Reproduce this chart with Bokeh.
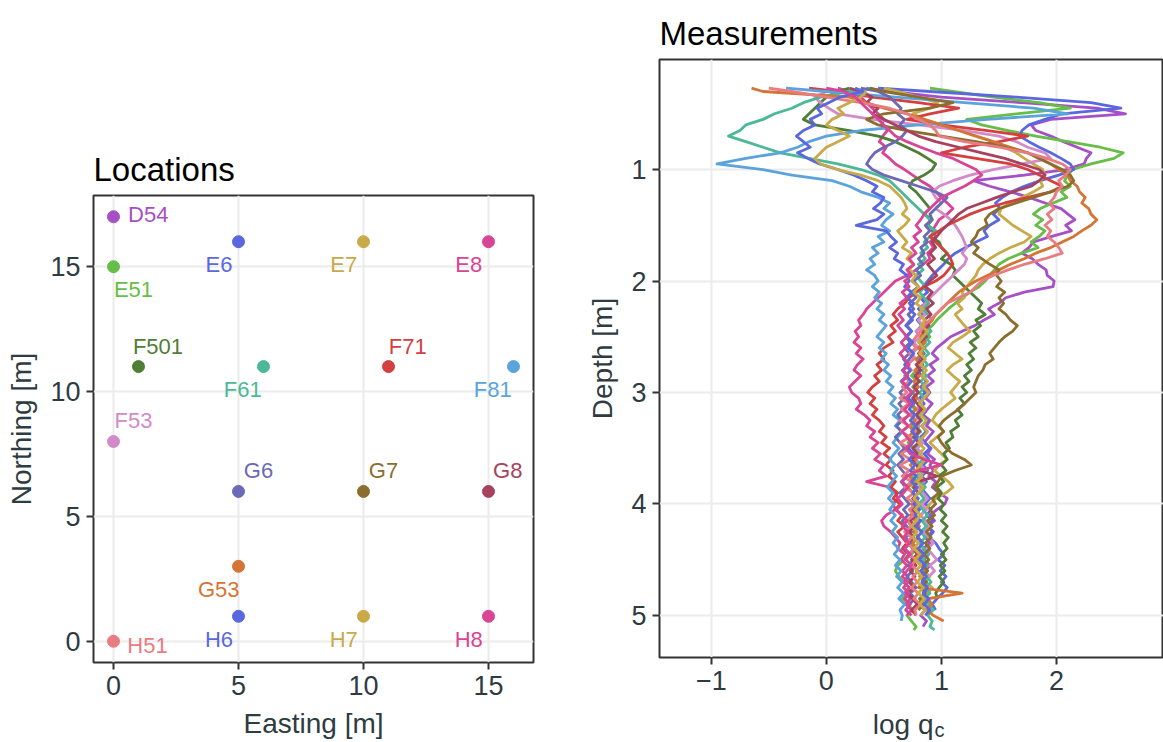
from bokeh.plotting import figure
from bokeh.layouts import row, column
from bokeh.models import Range1d, FixedTicker, Label, ColumnDataSource
from bokeh.core.properties import value
from bokeh.embed import file_html
from bokeh.resources import INLINE
import numpy as np

FONT = "Liberation Sans"

# ---------------- data: locations ----------------
LOCATIONS = ["D54", "E51", "E6", "E7", "E8", "F501", "F53", "F61", "F71", "F81",
             "G53", "G6", "G7", "G8", "H51", "H6", "H7", "H8"]
EASTING = [0, 0, 5, 10, 15, 1, 0, 6, 11, 16, 5, 5, 10, 15, 0, 5, 10, 15]
NORTHING = [17, 15, 16, 16, 16, 11, 8, 11, 11, 11, 3, 6, 6, 6, 0, 1, 1, 1]
COLORS = ["#A64FC6", "#66BD47", "#5B67DF", "#C8AA48", "#D84596", "#4F7E36", "#D38BC8",
          "#4BB897", "#D43F3F", "#5AA3DC", "#D57535", "#6A6AB7", "#8B6E2E", "#A6425E",
          "#E87C82", "#5B67DF", "#C8AA48", "#D84596"]

# label placement offsets (layout only, data units)
LABEL_DX = [1.39, 0.80, -0.78, -0.79, -0.79, 0.78, 0.80, -0.83, 0.77, -0.83,
            -0.79, 0.80, 0.80, 0.77, 1.36, -0.78, -0.79, -0.79]
LABEL_DY = [0.09, -0.92, -0.90, -0.90, -0.90, 0.81, 0.83, -0.90, 0.81, -0.90,
            -0.91, 0.84, 0.84, 0.84, -0.17, -0.93, -0.93, -0.93]

# ---------------- data: measurement profiles ----------------
DEPTH = [0.27, 0.30, 0.35, 0.40, 0.45, 0.50, 0.55, 0.60, 0.65, 0.70,
         0.75, 0.80, 0.85, 0.90, 0.95, 1.00, 1.05, 1.10, 1.15, 1.20,
         1.25, 1.30, 1.35, 1.40, 1.45, 1.50, 1.55, 1.60, 1.65, 1.70,
         1.75, 1.80, 1.85, 1.90, 1.95, 2.00, 2.05, 2.10, 2.15, 2.20,
         2.25, 2.30, 2.35, 2.40, 2.45, 2.50, 2.55, 2.60, 2.65, 2.70,
         2.75, 2.80, 2.85, 2.90, 2.95, 3.00, 3.05, 3.10, 3.15, 3.20,
         3.25, 3.30, 3.35, 3.40, 3.45, 3.50, 3.55, 3.60, 3.65, 3.70,
         3.75, 3.80, 3.85, 3.90, 3.95, 4.00, 4.05, 4.10, 4.15, 4.20,
         4.25, 4.30, 4.35, 4.40, 4.45, 4.50, 4.55, 4.60, 4.65, 4.70,
         4.75, 4.80, 4.85, 4.90, 4.95, 5.00, 5.05, 5.10, 5.13]
N = None

QC_D54 = [0.35, 0.55, 1.00, 1.70, 2.35, 2.60, 1.95, 1.78, 1.82, 1.95,
          2.06, 2.18, 2.30, 2.26, 2.24, 2.08, 1.72, 1.28, 1.42, 1.60,
          1.76, 1.90, 2.04, 2.10, 2.16, 2.08, 2.13, 1.96, 1.80, 1.76,
          1.70, 1.79, 1.84, 1.91, 1.92, 1.98, 1.97, 1.72, 1.56, 1.50,
          1.41, 1.46, 1.37, 1.29, 1.18, 1.08, 1.02, 0.96, 0.92, 0.97,
          0.90, 0.94, 0.88, 0.93, 0.87, 0.90, 0.86, 0.92, 0.88, 0.84,
          0.90, 0.87, 0.93, 0.89, 0.85, 0.91, 0.88, 0.94, 0.90, 0.93,
          0.89, 0.95, 0.92, 0.98, 1.05, 1.03, 0.96, 0.90, 0.94, 0.88,
          0.92, 0.86, 0.90, 0.84, 0.89, 0.85, 0.90, 0.86, 0.82, 0.87,
          0.83, 0.88, 0.84, 0.80, 0.86, 0.82, 0.87, 0.84, N]
QC_E51 = [0.90, 1.10, 1.45, 1.85, 2.12, 1.65, 1.22, 1.35, 1.58, 1.82,
          2.10, 2.38, 2.58, 2.50, 2.30, 2.14, 2.10, 2.07, 2.12, 2.04,
          2.09, 1.97, 1.86, 1.80, 1.88, 1.82, 1.90, 1.85, 1.78, 1.84,
          1.70, 1.58, 1.50, 1.46, 1.42, 1.38, 1.33, 1.25, 1.18, 1.12,
          1.06, 1.01, 0.96, 0.92, 0.86, 0.90, 0.84, 0.80, 0.85, 0.79,
          0.83, 0.78, 0.74, 0.79, 0.75, 0.80, 0.76, 0.72, 0.77, 0.73,
          0.78, 0.74, 0.79, 0.75, 0.71, 0.76, 0.80, 0.77, 0.82, 0.78,
          0.74, 0.79, 0.75, 0.80, 0.76, 0.82, 0.78, 0.74, 0.79, 0.75,
          0.72, 0.76, 0.73, 0.78, 0.74, 0.68, 0.62, 0.60, 0.63, 0.67,
          0.72, 0.70, 0.66, 0.71, 0.75, 0.70, 0.74, 0.78, 0.76]
QC_E6 = [0.45, 0.90, 1.65, 2.30, 2.56, 2.05, 1.90, 1.76, 1.70, 1.68,
         1.76, 1.85, 1.95, 2.04, 2.12, 2.15, 2.02, 1.86, 1.72, 1.61,
         1.53, 1.47, 1.51, 1.45, 1.50, 1.42, 1.37, 1.40, 1.30, 1.21,
         1.12, 1.06, 1.02, 0.97, 0.92, 0.88, 0.84, 0.88, 0.82, 0.86,
         0.80, 0.84, 0.79, 0.83, 0.78, 0.82, 0.86, 0.81, 0.85, 0.80,
         0.84, 0.79, 0.83, 0.87, 0.82, 0.86, 0.81, 0.85, 0.80, 0.84,
         0.88, 0.83, 0.87, 0.82, 0.86, 0.90, 0.85, 0.89, 0.84, 0.88,
         0.83, 0.87, 0.82, 0.86, 0.90, 0.86, 0.91, 0.87, 0.92, 0.88,
         0.93, 0.89, 0.95, 0.98, 1.02, 0.97, 1.03, 0.99, 1.04, 1.00,
         1.05, 1.01, 0.96, 0.92, 0.95, N, N, N, N]
QC_E7 = [0.50, 0.62, 0.80, 0.97, 0.90, 0.75, 0.85, 1.00, 1.15, 1.30,
         1.45, 1.55, 1.65, 1.72, 1.80, 1.88, 1.90, 1.86, 1.88, 1.80,
         1.70, 1.60, 1.52, 1.50, 1.56, 1.62, 1.70, 1.78, 1.72, 1.60,
         1.50, 1.42, 1.36, 1.32, 1.30, 1.26, 1.22, 1.18, 1.20, 1.14,
         1.18, 1.12, 1.16, 1.20, 1.25, 1.18, 1.10, 1.06, 1.12, 1.18,
         1.10, 1.05, 1.10, 1.16, 1.12, 1.08, 1.12, 1.06, 1.00, 0.95,
         0.92, 0.97, 1.02, 0.96, 0.90, 0.95, 1.00, 1.05, 0.98, 0.94,
         1.00, 1.06, 1.10, 1.04, 0.95, 0.90, 0.86, 0.82, 0.78, 0.80,
         0.76, 0.80, 0.84, 0.80, 0.86, 0.82, 0.88, 0.84, 0.90, 0.86,
         0.92, 0.88, 0.82, 0.86, 0.90, 0.88, N, N, N]
QC_E8 = [0.10, 0.20, 0.30, 0.35, 0.40, 0.45, 0.50, 0.48, 0.53, 0.49,
         0.46, 0.52, 0.49, 0.55, 0.60, 0.68, 0.75, 0.82, 0.90, 0.95,
         1.00, 1.05, 1.10, 1.05, 0.98, 0.95, 0.92, 0.95, 0.90, 0.93,
         0.88, 0.90, 0.84, 0.78, 0.70, 0.60, 0.55, 0.50, 0.45, 0.40,
         0.35, 0.32, 0.28, 0.30, 0.25, 0.28, 0.24, 0.30, 0.26, 0.32,
         0.27, 0.24, 0.30, 0.25, 0.20, 0.22, 0.28, 0.30, 0.26, 0.33,
         0.38, 0.35, 0.42, 0.38, 0.45, 0.40, 0.47, 0.42, 0.50, 0.46,
         0.52, 0.35, 0.55, 0.60, 0.62, 0.58, 0.60, 0.52, 0.48, 0.50,
         0.56, 0.60, 0.64, 0.62, 0.68, 0.65, 0.70, 0.66, 0.71, 0.67,
         0.72, 0.68, 0.73, 0.69, 0.74, 0.70, N, N, N]
QC_F501 = [0.20, 0.10, 0.00, -0.05, -0.10, -0.15, -0.20, -0.10, 0.20, 0.45,
           0.60, 0.70, 0.80, 0.88, 0.95, 0.92, 0.85, 0.75, 0.72, 0.78,
           0.82, 0.86, 0.90, 0.85, 0.92, 0.88, 0.95, 0.90, 0.98, 1.00,
           1.05, 1.00, 1.08, 1.12, 1.10, 1.15, 1.20, 1.25, 1.30, 1.35,
           1.32, 1.38, 1.30, 1.34, 1.28, 1.32, 1.25, 1.30, 1.24, 1.28,
           1.22, 1.26, 1.20, 1.24, 1.18, 1.22, 1.16, 1.20, 1.14, 1.18,
           1.12, 1.15, 1.08, 1.10, 1.04, 1.07, 1.02, 1.05, 1.00, 1.04,
           0.98, 1.02, 0.96, 1.00, 0.97, 1.02, 0.99, 1.04, 1.00, 1.05,
           1.01, 1.06, 1.02, 1.05, 1.00, 1.04, 0.99, 1.03, 0.98, 1.02,
           0.98, 0.95, 0.97, N, N, N, N, N, N]
QC_F53 = [N, 0.00, -0.10, -0.05, 0.02, 0.10, 0.40, 0.80, 1.20, 1.50,
          1.65, 1.75, 1.90, 1.95, 1.70, 1.45, 1.25, 1.10, 0.98, 0.92,
          0.95, 1.00, 0.95, 1.02, 1.08, 1.12, 1.15, 1.18, 1.20, 1.22,
          1.18, 1.22, 1.20, 1.15, 1.10, 1.05, 1.00, 0.95, 0.90, 0.86,
          0.82, 0.86, 0.80, 0.84, 0.78, 0.82, 0.76, 0.80, 0.74, 0.78,
          0.82, 0.77, 0.81, 0.76, 0.80, 0.75, 0.79, 0.83, 0.78, 0.82,
          0.77, 0.81, 0.76, 0.80, 0.84, 0.79, 0.83, 0.78, 0.82, 0.86,
          0.81, 0.85, 0.80, 0.84, 0.88, 0.83, 0.87, 0.82, 0.86, 0.90,
          0.85, 0.89, 0.93, 0.88, 0.92, 0.96, 0.90, 0.94, 0.89, N,
          N, N, N, N, N, N, N, N, N]
QC_F61 = [0.40, 0.20, -0.05, -0.20, -0.30, -0.45, -0.55, -0.70, -0.75, -0.85,
          -0.70, -0.55, -0.40, -0.15, 0.10, 0.30, 0.45, 0.55, 0.60, 0.65,
          0.70, 0.75, 0.80, 0.85, 0.90, 0.88, 0.95, 0.90, 0.85, 0.88,
          0.82, 0.86, 0.80, 0.84, 0.78, 0.82, 0.86, 0.81, 0.85, 0.89,
          0.84, 0.88, 0.92, 0.87, 0.91, 0.86, 0.90, 0.85, 0.89, 0.84,
          0.88, 0.83, 0.87, 0.82, 0.86, 0.81, 0.85, 0.80, 0.84, 0.79,
          0.83, 0.78, 0.82, 0.77, 0.81, 0.76, 0.80, 0.84, 0.79, 0.83,
          0.78, 0.82, 0.86, 0.81, 0.85, 0.80, 0.84, 0.88, 0.83, 0.87,
          0.82, 0.86, 0.81, 0.85, 0.89, 0.84, 0.88, 0.83, 0.87, 0.91,
          0.86, 0.90, 0.85, 0.89, 0.93, 0.88, 0.92, 0.90, 0.94]
QC_F71 = [-0.15, 0.10, 0.40, 0.80, 1.15, 0.90, 0.70, 1.00, 1.40, 1.75,
          1.50, 1.20, 1.00, 1.30, 1.60, 1.75, 1.85, 1.95, 2.05, 1.95,
          1.75, 1.55, 1.38, 1.25, 1.15, 1.05, 0.98, 0.90, 0.95, 1.00,
          1.05, 1.08, 1.10, 1.06, 1.02, 0.95, 0.85, 0.78, 0.72, 0.68,
          0.62, 0.58, 0.62, 0.56, 0.60, 0.54, 0.58, 0.50, 0.46, 0.50,
          0.44, 0.48, 0.42, 0.46, 0.40, 0.36, 0.42, 0.38, 0.44, 0.40,
          0.46, 0.50, 0.46, 0.52, 0.48, 0.55, 0.50, 0.56, 0.52, 0.58,
          0.54, 0.60, 0.56, 0.62, 0.58, 0.64, 0.60, 0.66, 0.62, 0.68,
          0.62, 0.66, 0.70, 0.66, 0.72, 0.68, N, N, N, N,
          N, N, N, N, N, N, N, N, N]
QC_F81 = [-0.35, 0.00, 0.60, 1.20, 1.80, 2.10, 1.40, 0.80, 0.30, 0.00,
          -0.15, -0.25, -0.40, -0.70, -0.95, -0.55, -0.30, 0.05, 0.20, 0.30,
          0.45, 0.55, 0.50, 0.58, 0.52, 0.48, 0.55, 0.45, 0.50, 0.40,
          0.45, 0.38, 0.42, 0.35, 0.42, 0.45, 0.40, 0.46, 0.42, 0.48,
          0.44, 0.50, 0.46, 0.52, 0.48, 0.44, 0.50, 0.46, 0.52, 0.48,
          0.54, 0.50, 0.56, 0.52, 0.58, 0.54, 0.60, 0.56, 0.62, 0.58,
          0.64, 0.60, 0.66, 0.62, 0.58, 0.63, 0.59, 0.55, 0.60, 0.56,
          0.61, 0.57, 0.53, 0.58, 0.54, 0.59, 0.55, 0.60, 0.56, 0.61,
          0.57, 0.62, 0.58, 0.63, 0.59, 0.64, 0.60, 0.65, 0.61, 0.66,
          0.62, 0.67, 0.63, 0.68, 0.64, 0.66, 0.65, N, N]
QC_G53 = [-0.65, -0.55, 0.20, 0.35, 0.50, 0.70, 0.85, 1.00, 1.15, 1.30,
          1.45, 1.60, 1.75, 1.85, 1.95, 2.02, 2.10, 2.12, 2.18, 2.20,
          2.25, 2.22, 2.28, 2.30, 2.35, 2.30, 2.22, 2.15, 2.05, 1.95,
          1.82, 1.72, 1.60, 1.50, 1.40, 1.30, 1.22, 1.15, 1.10, 1.05,
          1.00, 0.95, 0.92, 0.88, 0.85, 0.82, 0.86, 0.80, 0.84, 0.78,
          0.82, 0.77, 0.81, 0.76, 0.80, 0.75, 0.79, 0.74, 0.78, 0.73,
          0.77, 0.72, 0.76, 0.71, 0.75, 0.70, 0.74, 0.78, 0.73, 0.77,
          0.72, 0.76, 0.71, 0.75, 0.79, 0.74, 0.78, 0.73, 0.77, 0.81,
          0.76, 0.80, 0.75, 0.79, 0.83, 0.78, 0.82, 0.86, 0.81, 0.85,
          0.80, 1.18, 0.88, 0.92, 0.87, 0.93, 1.02, N, N]
QC_G6 = [0.30, 0.45, 0.55, 0.60, 0.65, 0.62, 0.68, 0.64, 0.70, 0.66,
         0.60, 0.50, 0.42, 0.38, 0.35, 0.40, 0.50, 0.65, 0.80, 0.95,
         1.05, 1.00, 0.95, 0.90, 0.92, 0.86, 0.90, 0.85, 0.88, 0.82,
         0.85, 0.80, 0.84, 0.78, 0.82, 0.76, 0.80, 0.74, 0.78, 0.72,
         0.76, 0.71, 0.75, 0.70, 0.74, 0.69, 0.73, 0.68, 0.72, 0.67,
         0.71, 0.66, 0.70, 0.65, 0.69, 0.64, 0.68, 0.63, 0.67, 0.62,
         0.66, 0.61, 0.65, 0.60, 0.64, 0.68, 0.63, 0.67, 0.62, 0.66,
         0.70, 0.65, 0.69, 0.64, 0.68, 0.72, 0.67, 0.71, 0.66, 0.70,
         0.74, 0.69, 0.73, 0.68, 0.72, 0.76, 0.71, 0.75, 0.70, 0.74,
         0.78, 0.73, 0.77, 0.72, N, N, N, N, N]
QC_G7 = [0.38, 0.50, 0.80, 1.10, 0.90, 0.50, 0.35, 0.45, 0.70, 1.00,
         1.30, 1.55, 1.75, 1.85, 1.95, 2.05, 2.12, 2.15, 2.10, 1.95,
         1.80, 1.65, 1.50, 1.42, 1.38, 1.40, 1.32, 1.30, 1.26, 1.32,
         1.28, 1.35, 1.42, 1.50, 1.48, 1.52, 1.48, 1.55, 1.50, 1.54,
         1.50, 1.56, 1.60, 1.66, 1.62, 1.55, 1.50, 1.46, 1.42, 1.45,
         1.38, 1.36, 1.32, 1.30, 1.28, 1.30, 1.25, 1.20, 1.15, 1.08,
         1.02, 0.98, 1.02, 0.97, 1.00, 1.04, 1.10, 1.20, 1.26, 1.12,
         1.00, 0.97, 0.94, 0.98, 0.92, 0.95, 0.90, 0.94, 0.88, 0.92,
         0.87, 0.91, 0.86, 0.90, 0.85, 0.89, 0.84, 0.88, 0.83, 0.87,
         0.82, 0.86, 0.81, 0.85, 0.80, N, N, N, N]
QC_G8 = [0.20, 0.30, 0.40, 0.35, 0.45, 0.40, 0.50, 0.60, 0.70, 0.80,
         0.95, 1.15, 1.35, 1.55, 1.70, 1.85, 1.90, 1.85, 1.78, 1.62,
         1.48, 1.35, 1.22, 1.15, 1.10, 1.05, 1.00, 0.96, 0.92, 0.95,
         0.90, 0.94, 0.88, 0.92, 0.96, 0.90, 0.86, 0.92, 0.88, 0.93,
         0.87, 0.91, 0.85, 0.89, 0.83, 0.87, 0.81, 0.85, 0.80, 0.84,
         0.78, 0.82, 0.77, 0.81, 0.76, 0.80, 0.75, 0.79, 0.83, 0.78,
         0.82, 0.77, 0.81, 0.76, 0.80, 0.75, 0.79, 0.74, 0.78, 0.82,
         0.96, 0.80, 0.76, 0.80, 0.75, 0.79, 0.74, 0.78, 0.73, 0.77,
         0.72, 0.76, 0.71, 0.75, 0.79, 0.74, 0.78, 0.73, 0.77, 0.72,
         0.76, 0.71, 0.75, 0.79, 0.74, 0.78, N, N, N]
QC_H51 = [-0.50, -0.30, 0.00, 0.30, 0.55, 0.70, 0.80, 0.90, 0.95, 0.98,
          1.20, 1.50, 1.75, 1.92, 2.05, 2.12, 2.08, 2.02, 2.05, 2.00,
          1.98, 1.94, 1.98, 1.92, 1.96, 1.90, 1.95, 1.92, 1.98, 2.02,
          2.05, 1.90, 1.72, 1.58, 1.45, 1.35, 1.30, 1.25, 1.15, 1.05,
          1.00, 0.95, 0.90, 0.85, 0.82, 0.78, 0.74, 0.78, 0.72, 0.76,
          0.70, 0.74, 0.68, 0.72, 0.66, 0.70, 0.64, 0.72, 0.65, 0.73,
          0.64, 0.72, 0.65, 0.73, 0.64, 0.72, 0.65, 0.73, 0.64, 0.72,
          0.66, 0.74, 0.68, 0.76, 0.70, 0.78, 0.72, 0.76, 0.70, 0.74,
          0.68, 0.74, 0.70, 0.76, 0.72, 0.78, 0.74, 0.80, 0.75, 0.79,
          0.74, 0.80, 0.76, 0.82, 0.77, 0.78, N, N, N]
QC_H6 = [0.25, 0.32, 0.12, 0.02, -0.08, -0.04, -0.14, -0.10, -0.20, -0.26,
         -0.20, -0.14, -0.25, -0.16, -0.06, 0.10, 0.24, 0.35, 0.44, 0.40,
         0.50, 0.47, 0.41, 0.50, 0.44, 0.26, 0.52, 0.56, 0.61, 0.55,
         0.62, 0.59, 0.67, 0.64, 0.70, 0.72, 0.68, 0.74, 0.70, 0.76,
         0.72, 0.77, 0.73, 0.69, 0.74, 0.70, 0.75, 0.71, 0.76, 0.72,
         0.68, 0.73, 0.69, 0.74, 0.70, 0.75, 0.71, 0.76, 0.72, 0.77,
         0.73, 0.78, 0.74, 0.79, 0.75, 0.71, 0.76, 0.72, 0.77, 0.73,
         0.78, 0.74, 0.79, 0.75, 0.80, 0.76, 0.81, 0.77, 0.82, 0.78,
         0.83, 0.79, 0.84, 0.80, 0.85, 0.81, 0.86, 0.82, 0.87, 0.83,
         0.88, 0.84, 0.89, 0.85, 0.90, 0.86, N, N, N]
QC_H7 = [N, 0.35, 0.30, 0.20, 0.10, 0.15, 0.05, 0.00, 0.10, 0.20,
         0.10, 0.00, -0.05, -0.10, -0.05, 0.10, 0.30, 0.45, 0.55, 0.60,
         0.65, 0.68, 0.70, 0.66, 0.72, 0.68, 0.62, 0.66, 0.70, 0.66,
         0.74, 0.70, 0.76, 0.72, 0.78, 0.74, 0.80, 0.76, 0.82, 0.78,
         0.84, 0.80, 0.86, 0.82, 0.88, 0.84, 0.80, 0.85, 0.81, 0.86,
         0.82, 0.87, 0.83, 0.88, 0.84, 0.89, 0.85, 0.81, 0.86, 0.82,
         0.87, 0.83, 0.88, 0.84, 0.80, 0.85, 0.81, 0.86, 0.82, 0.78,
         0.83, 0.79, 0.84, 0.80, 0.76, 0.81, 0.77, 0.82, 0.78, 0.74,
         0.79, 0.75, 0.80, 0.76, 0.81, 0.77, 0.82, 0.78, 0.83, 0.79,
         0.84, 0.80, 0.85, 0.81, 0.86, 0.82, N, N, N]
QC_H8 = [0.00, 0.15, 0.25, 0.30, 0.35, 0.40, 0.45, 0.50, 0.55, 0.60,
         0.70, 0.82, 0.95, 1.10, 1.20, 1.30, 1.35, 1.28, 1.20, 1.10,
         1.00, 0.95, 0.90, 0.85, 0.82, 0.78, 0.82, 0.76, 0.80, 0.74,
         0.78, 0.72, 0.76, 0.70, 0.74, 0.68, 0.72, 0.66, 0.70, 0.64,
         0.68, 0.63, 0.67, 0.62, 0.66, 0.70, 0.65, 0.69, 0.64, 0.68,
         0.72, 0.67, 0.71, 0.66, 0.70, 0.74, 0.69, 0.73, 0.68, 0.72,
         0.67, 0.71, 0.66, 0.70, 0.74, 0.69, 0.73, 0.85, 1.00, 0.80,
         0.70, 0.66, 0.71, 0.67, 0.62, 0.66, 0.61, 0.65, 0.70, 0.66,
         0.71, 0.67, 0.72, 0.68, 0.73, 0.69, 0.74, 0.70, 0.66, 0.71,
         0.67, 0.72, 0.68, 0.73, 0.69, 0.74, N, N, N]

PROFILES = [QC_D54, QC_E51, QC_E6, QC_E7, QC_E8, QC_F501, QC_F53, QC_F61, QC_F71,
            QC_F81, QC_G53, QC_G6, QC_G7, QC_G8, QC_H51, QC_H6, QC_H7, QC_H8]

# ---------------- styling helpers ----------------
TICK_COLOR = "#2E3C42"
FRAME_COLOR = "#333333"
GRID_COLOR = "#EBEBEB"


def style(p):
    p.outline_line_color = FRAME_COLOR
    p.outline_line_width = 2
    p.background_fill_color = "white"
    p.border_fill_color = "white"
    p.grid.grid_line_color = GRID_COLOR
    p.grid.grid_line_width = 2
    p.grid.minor_grid_line_color = None
    for ax in p.axis:
        ax.axis_line_color = None
        ax.major_tick_line_color = FRAME_COLOR
        ax.major_tick_line_width = 2
        ax.major_tick_out = 7
        ax.major_tick_in = 0
        ax.minor_tick_line_color = None
        ax.major_label_text_font = FONT
        ax.major_label_text_font_size = "27px"
        ax.major_label_text_color = TICK_COLOR
        ax.major_label_standoff = 6
        ax.axis_label_text_font = FONT
        ax.axis_label_text_font_size = "28px"
        ax.axis_label_text_font_style = "normal"
        ax.axis_label_text_color = TICK_COLOR
        ax.axis_label_standoff = 10
    p.title.text_font = FONT
    p.title.text_font_size = "33px"
    p.title.text_font_style = "normal"
    p.title.text_color = "black"
    p.title.align = "left"
    p.title.standoff = 15
    try:
        p.frame_align = False
    except AttributeError:
        pass


# ---------------- left: locations ----------------
p1 = figure(width=560, height=742, x_range=Range1d(-0.8, 16.8), y_range=Range1d(-0.85, 17.85),
            output_backend="svg", toolbar_location=None, title="Locations",
            min_border_left=93, min_border_right=27, min_border_top=195, min_border_bottom=80)
style(p1)
p1.xaxis.ticker = FixedTicker(ticks=[0, 5, 10, 15])
p1.yaxis.ticker = FixedTicker(ticks=[0, 5, 10, 15])
p1.xaxis.axis_label = "Easting [m]"
p1.yaxis.axis_label = "Northing [m]"

src = ColumnDataSource(dict(
    x=EASTING, y=NORTHING, name=LOCATIONS, color=COLORS,
    lx=[e + dx for e, dx in zip(EASTING, LABEL_DX)],
    ly=[n + dy for n, dy in zip(NORTHING, LABEL_DY)],
))
p1.scatter("x", "y", source=src, size=12, color="color", line_color="color")
p1.text("lx", "ly", text="name", source=src, text_color="color",
        text_font=value(FONT), text_font_size="22px",
        text_align="center", text_baseline="middle")

# ---------------- right: measurements ----------------
P2_H = 702
p2 = figure(width=603, height=P2_H, x_range=Range1d(-1.45, 2.93), y_range=Range1d(5.377, 0.013),
            output_backend="svg", toolbar_location=None, title="Measurements",
            min_border_left=99, min_border_right=0, min_border_top=59,
            min_border_bottom=P2_H - 657)
style(p2)
p2.xaxis.ticker = FixedTicker(ticks=[-1, 0, 1, 2])
p2.xaxis.major_label_overrides = {-1: "\u22121"}
p2.yaxis.ticker = FixedTicker(ticks=[1, 2, 3, 4, 5])
p2.yaxis.axis_label = "Depth [m]"

depth = np.array(DEPTH, dtype=float)
for vals, col in zip(PROFILES, COLORS):
    v = np.array(vals, dtype=float)
    p2.line(v, depth, line_color=col, line_width=2.8, line_join="round")

# strip below the measurements panel carrying the x-axis title "log q" with subscript "c"
p3 = figure(width=603, height=742 - P2_H, x_range=Range1d(0, 603), y_range=Range1d(742 - P2_H, 0),
            output_backend="svg", toolbar_location=None,
            min_border_left=0, min_border_right=0, min_border_top=0, min_border_bottom=0)
p3.axis.visible = False
p3.grid.visible = False
p3.outline_line_color = None
p3.background_fill_color = "white"
p3.border_fill_color = "white"
try:
    p3.frame_align = False
except AttributeError:
    pass
p3.add_layout(Label(x=373, y=724 - P2_H, text="log q", text_align="right",
                    text_baseline="alphabetic", text_font=FONT, text_font_size="28px",
                    text_color=TICK_COLOR))
p3.add_layout(Label(x=374, y=729 - P2_H, text="c", text_align="left",
                    text_baseline="alphabetic", text_font=FONT, text_font_size="20px",
                    text_color=TICK_COLOR))

layout = row(p1, column(p2, p3))
open("out.html", "w").write(file_html(layout, INLINE))
